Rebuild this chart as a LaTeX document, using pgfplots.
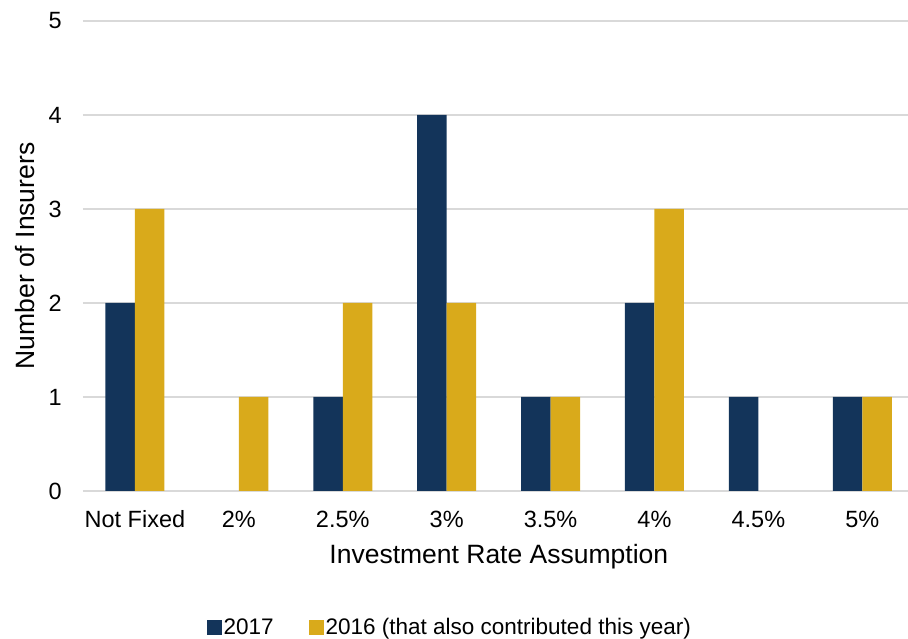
\documentclass[border=0pt]{standalone}
\usepackage{pgfplots}
\pgfplotsset{compat=1.18}
\usepackage{fontspec}
\setmainfont{Liberation Sans}
\definecolor{navy}{HTML}{13345A}
\definecolor{gold}{HTML}{D9AA1B}
\definecolor{gridg}{HTML}{D9D9D9}
\begin{document}
\begin{tikzpicture}[x=1pt,y=1pt]
\path[use as bounding box] (0,0) rectangle (908,639);
\begin{axis}[
  at={(83pt,148pt)}, anchor=south west,
  scale only axis, width=825pt, height=470pt,
  ybar=0pt, bar width=29.5pt,
  xmin=-0.5, xmax=7.44, ymin=0, ymax=5,
  xtick={0,1,2,3,4,5,6,7},
  xticklabels={Not Fixed,2\%,2.5\%,3\%,3.5\%,4\%,4.5\%,5\%},
  ytick={0,1,2,3,4,5},
  ymajorgrids, major grid style={draw=gridg, line width=1.3pt},
  axis x line*=bottom, axis y line*=left,
  x axis line style={draw=gridg, line width=1.3pt, -},
  y axis line style={draw=none},
  major tick length=0pt,
  font=\fontsize{23.5}{28}\selectfont,
  /pgf/number format/assume math mode=true,
  xticklabel style={anchor=base, yshift=-37pt, inner sep=0pt},
  yticklabel style={anchor=east, xshift=-21pt, inner sep=0pt},
  xlabel={Investment Rate Assumption},
  ylabel={Number of Insurers},
  label style={font=\fontsize{26.5}{31}\selectfont},
  xlabel style={at={(axis description cs:0.504,-0.1404)}, anchor=center},
  ylabel style={at={(axis description cs:-0.0703,0.5)}, anchor=center, rotate=0},
  legend columns=2,
  legend style={draw=none, at={(axis description cs:0.4445,-0.2894)}, anchor=center,
    /tikz/every even column/.append style={column sep=33pt},
    font=\fontsize{22.5}{27}\selectfont, inner sep=0pt},
  legend image code/.code={\fill[#1,draw=none] (0pt,-7.5pt) rectangle (15pt,7.5pt);},
  legend cell align=left,
]
\addplot[fill=navy, draw=none] coordinates {(0,2) (2,1) (3,4) (4,1) (5,2) (6,1) (7,1)};
\addplot[fill=gold, draw=none] coordinates {(0,3) (1,1) (2,2) (3,2) (4,1) (5,3) (7,1)};
\legend{2017,2016 (that also contributed this year)}
\end{axis}
\end{tikzpicture}
\end{document}
